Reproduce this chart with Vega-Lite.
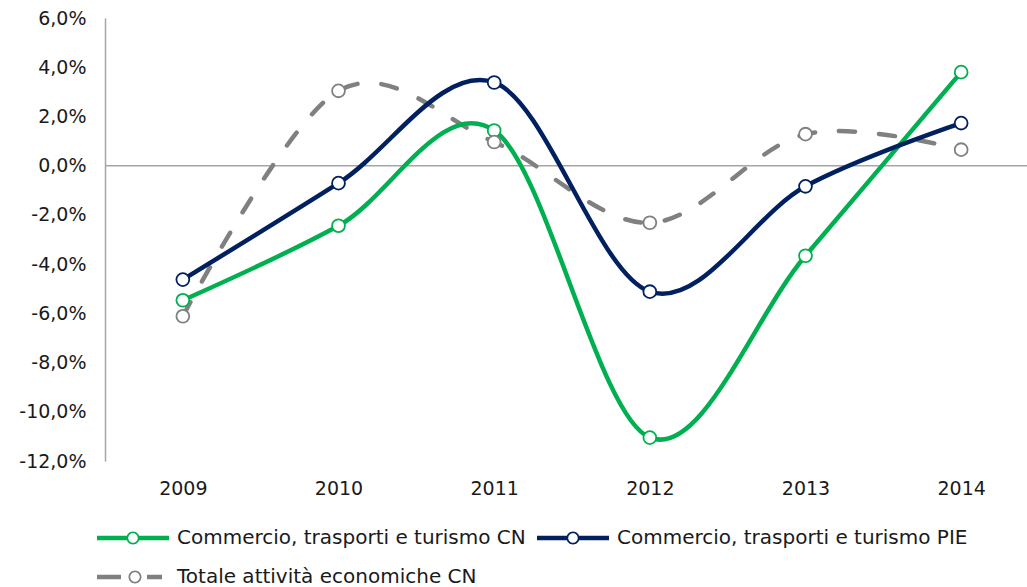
{
  "$schema": "https://vega.github.io/schema/vega-lite/v6.json",
  "width": 934,
  "height": 443,
  "autosize": "none",
  "padding": {"left": 105, "top": 18, "right": -12, "bottom": 126},
  "background": "white",
  "config": {
    "view": {"stroke": null},
    "font": "DejaVu Sans",
    "axis": {"labelFont": "DejaVu Sans", "labelFontSize": 19, "labelColor": "#1a1a1a", "grid": false, "ticks": false, "title": null}
  },
  "data": {
    "values": [
      {"year": "2009", "series": "Commercio, trasporti e turismo CN", "value": -5.47},
      {"year": "2010", "series": "Commercio, trasporti e turismo CN", "value": -2.44},
      {"year": "2011", "series": "Commercio, trasporti e turismo CN", "value": 1.43},
      {"year": "2012", "series": "Commercio, trasporti e turismo CN", "value": -11.05},
      {"year": "2013", "series": "Commercio, trasporti e turismo CN", "value": -3.66},
      {"year": "2014", "series": "Commercio, trasporti e turismo CN", "value": 3.8},
      {"year": "2009", "series": "Commercio, trasporti e turismo PIE", "value": -4.63},
      {"year": "2010", "series": "Commercio, trasporti e turismo PIE", "value": -0.71},
      {"year": "2011", "series": "Commercio, trasporti e turismo PIE", "value": 3.38},
      {"year": "2012", "series": "Commercio, trasporti e turismo PIE", "value": -5.12},
      {"year": "2013", "series": "Commercio, trasporti e turismo PIE", "value": -0.84},
      {"year": "2014", "series": "Commercio, trasporti e turismo PIE", "value": 1.73},
      {"year": "2009", "series": "Totale attività economiche CN", "value": -6.12},
      {"year": "2010", "series": "Totale attività economiche CN", "value": 3.04},
      {"year": "2011", "series": "Totale attività economiche CN", "value": 0.96},
      {"year": "2012", "series": "Totale attività economiche CN", "value": -2.32},
      {"year": "2013", "series": "Totale attività economiche CN", "value": 1.28},
      {"year": "2014", "series": "Totale attività economiche CN", "value": 0.65}
    ]
  },
  "encoding": {
    "x": {
      "field": "year", "type": "ordinal",
      "scale": {"type": "point", "padding": 0.5},
      "axis": {"domain": false, "labelPadding": 18, "labelAngle": 0}
    },
    "y": {
      "field": "value", "type": "quantitative",
      "scale": {"domain": [-12, 6], "nice": false, "zero": false},
      "axis": {
        "values": [-12, -10, -8, -6, -4, -2, 0, 2, 4, 6],
        "domain": true, "domainColor": "#a6a6a6", "domainWidth": 1.5,
        "labelPadding": 19,
        "labelExpr": "replace(replace(format(datum.value, '.1f'), '.', ','), '\u2212', '-') + '%'"
      }
    },
    "color": {
      "field": "series", "type": "nominal",
      "scale": {
        "domain": ["Commercio, trasporti e turismo CN", "Commercio, trasporti e turismo PIE", "Totale attività economiche CN"],
        "range": ["#00B050", "#002060", "#808080"]
      },
      "legend": {
        "orient": "none",
        "direction": "horizontal",
        "legendX": -13,
        "legendY": 510,
        "columns": 2,
        "columnPadding": 6,
        "rowPadding": 19,
        "padding": 0,
        "title": null,
        "labelFont": "DejaVu Sans",
        "labelFontSize": 20,
        "labelColor": "#1a1a1a",
        "labelLimit": 0,
        "symbolSize": 100,
        "symbolStrokeWidth": 0,
        "symbolOffset": 31,
        "labelOffset": 34,
        "encode": {
          "symbols": {
            "update": {
              "shape": {"signal": "datum.value === 'Totale attività economiche CN' ? 'M-7.2,-0.45L-2.4,-0.45L-2.4,0.45L-7.2,0.45Z M2.8,-0.45L5.8,-0.45L5.8,0.45L2.8,0.45Z M-0.9,0A1.3,1.3 0 1,1 1.7,0A1.3,1.3 0 1,1 -0.9,0Z M-0.55,0A0.95,0.95 0 1,0 1.35,0A0.95,0.95 0 1,0 -0.55,0Z' : 'M-7.2,-0.45L-1.2,-0.45L-1.2,0.45L-7.2,0.45Z M1.2,-0.45L7.2,-0.45L7.2,0.45L1.2,0.45Z M-1.3,0A1.3,1.3 0 1,1 1.3,0A1.3,1.3 0 1,1 -1.3,0Z M-0.95,0A0.95,0.95 0 1,0 0.95,0A0.95,0.95 0 1,0 -0.95,0Z'"},
              "fill": {"signal": "scale('color', datum.value)"},
              "fillOpacity": {"value": 1},
              "opacity": {"value": 1},
              "stroke": {"value": "transparent"},
              "strokeWidth": {"value": 0},
              "size": {"value": 100}
            }
          }
        }
      }
    }
  },
  "layer": [
    {
      "data": {"values": [{"zero": 0}]},
      "mark": {"type": "rule", "color": "#a6a6a6", "strokeWidth": 1.5},
      "encoding": {"y": {"field": "zero", "type": "quantitative"}, "x": null, "color": null}
    },
    {
      "transform": [{"filter": "datum.series === 'Totale attività economiche CN'"}],
      "mark": {"type": "line", "interpolate": "cardinal", "tension": 0, "strokeWidth": 4.5, "strokeDash": [16, 24], "strokeCap": "round"}
    },
    {
      "transform": [{"filter": "datum.series !== 'Totale attività economiche CN'"}],
      "mark": {"type": "line", "interpolate": "cardinal", "tension": 0, "strokeWidth": 4.5}
    },
    {
      "mark": {"type": "point", "filled": false, "fill": "white", "fillOpacity": 1, "opacity": 1, "size": 165, "strokeWidth": 1.8}
    }
  ]
}
